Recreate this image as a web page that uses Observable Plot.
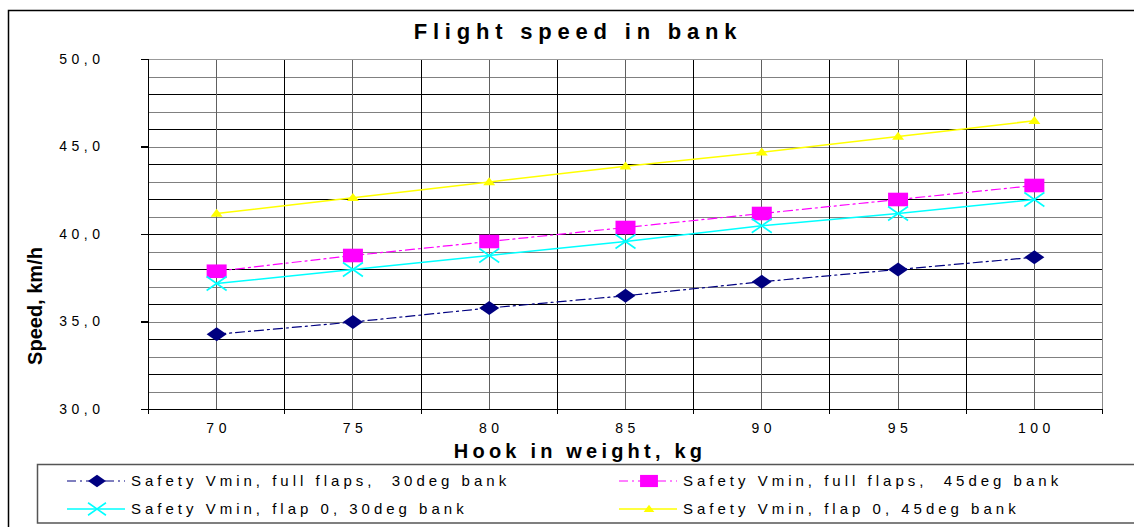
<!DOCTYPE html>
<html><head><meta charset="utf-8">
<script src="https://cdn.jsdelivr.net/npm/d3@7"></script>
<script src="https://cdn.jsdelivr.net/npm/@observablehq/plot@0.6"></script>
<style>
body{margin:0;background:#fff;}
#chart svg{display:block;font-family:"Liberation Sans",Arial,sans-serif;}
g[aria-label="text"] text{letter-spacing:4.5px;}
.lg text{white-space:pre;}
</style></head><body><div id="chart"></div>
<script>
// ---- data ----
const title = "Flight speed in bank";
const xLabel = "Hook in weight, kg";
const yLabel = "Speed, km/h";
const weights = [70, 75, 80, 85, 90, 95, 100];
const fullFlaps30 = [34.3, 35.0, 35.8, 36.5, 37.3, 38.0, 38.7];
const fullFlaps45 = [37.9, 38.8, 39.6, 40.4, 41.2, 42.0, 42.8];
const flap0_30 = [37.2, 38.0, 38.8, 39.6, 40.5, 41.2, 42.0];
const flap0_45 = [41.2, 42.1, 43.0, 43.9, 44.7, 45.6, 46.5];
const seriesNames = [
  "Safety Vmin, full flaps,  30deg bank",
  "Safety Vmin, full flaps,  45deg bank",
  "Safety Vmin, flap 0, 30deg bank",
  "Safety Vmin, flap 0, 45deg bank"
];
const yTicks = [30, 35, 40, 45, 50];
const xDomain = [67.5, 102.5];
const yDomain = [30, 50];

// ---- layout ----
const W = 1134, H = 527;
const mL = 148, mR = 32, mT = 59, mB = 118;
const plotW = W - mL - mR, plotH = H - mT - mB;
const xUnit = (xDomain[1] - xDomain[0]) / plotW;
const yUnit = (yDomain[1] - yDomain[0]) / plotH;

const yGridOdd = d3.range(31, 50, 2);
const yGridEven = d3.range(32, 50, 2);
const xCenters = weights;
const xBounds = d3.range(72.5, 100, 5);
const xAllBounds = d3.range(67.5, 103, 5);

const mk = (vals) => weights.map((w, i) => ({w, v: vals[i]}));
const s1 = mk(fullFlaps30), s2 = mk(fullFlaps45), s3 = mk(flap0_30), s4 = mk(flap0_45);

// custom symbols
const diamond = {draw(c, size) { const r = Math.sqrt(size / Math.PI); c.moveTo(-r, 0); c.lineTo(0, -r * 0.7); c.lineTo(r, 0); c.lineTo(0, r * 0.7); c.closePath(); }};
const square = {draw(c, size) { const r = Math.sqrt(size / Math.PI); c.rect(-r, -r * 0.68, 2 * r, r * 1.36); }};
const cross = {draw(c, size) { const r = Math.sqrt(size / Math.PI); c.moveTo(-r, -r * 0.7); c.lineTo(r, r * 0.7); c.moveTo(-r, r * 0.7); c.lineTo(r, -r * 0.7); }};
const tri = {draw(c, size) { const r = Math.sqrt(size / Math.PI); c.moveTo(0, -r * 0.8); c.lineTo(r, r * 0.55); c.lineTo(-r, r * 0.55); c.closePath(); }};

const styles = [
  {color: "#000080", dash: "9,4,2,4", width: 1.2, symbol: diamond, r: 10, fill: true},
  {color: "#FF00FF", dash: "9,4,2,4", width: 1.2, symbol: square, r: 10, fill: true},
  {color: "#00FFFF", dash: null, width: 1.5, symbol: cross, r: 10, fill: false},
  {color: "#FFFF00", dash: null, width: 1.5, symbol: tri, r: 6, fill: true}
];
const series = [s1, s2, s3, s4];

const marks = [
  Plot.ruleY(yGridOdd, {stroke: "#808080", strokeWidth: 1, shapeRendering: "crispEdges"}),
  Plot.ruleY(yGridEven, {stroke: "#000", strokeWidth: 1, shapeRendering: "crispEdges"}),
  Plot.ruleX(xCenters, {stroke: "#606060", strokeWidth: 1, shapeRendering: "crispEdges"}),
  Plot.ruleX(xBounds, {stroke: "#000", strokeWidth: 1, shapeRendering: "crispEdges"}),
  Plot.ruleY([yDomain[1]], {stroke: "#999", strokeWidth: 1.5, shapeRendering: "crispEdges"}),
  Plot.ruleX([xDomain[1]], {stroke: "#888", strokeWidth: 1.5, shapeRendering: "crispEdges"}),
  Plot.ruleY([yDomain[0]], {stroke: "#000", strokeWidth: 1.5, shapeRendering: "crispEdges"}),
  Plot.ruleX([xDomain[0]], {stroke: "#000", strokeWidth: 1.5, shapeRendering: "crispEdges"}),
  Plot.ruleY(yTicks, {x1: xDomain[0] - 7 * xUnit, x2: xDomain[0], stroke: "#000", strokeWidth: 1.2, shapeRendering: "crispEdges"}),
  Plot.ruleX(xAllBounds, {y1: yDomain[0] - 5 * yUnit, y2: yDomain[0], stroke: "#000", strokeWidth: 1, shapeRendering: "crispEdges"}),
  Plot.text(yTicks, {y: d => d, frameAnchor: "left", dx: -44, textAnchor: "end", text: d => d.toFixed(1).replace(".", ","), fontSize: 14, fill: "#000"}),
  Plot.text(weights, {x: d => d, frameAnchor: "bottom", dy: 23, dx: 2, text: d => String(d), fontSize: 14, fill: "#000"})
];
series.forEach((s, i) => {
  const st = styles[i];
  marks.push(Plot.line(s, {x: "w", y: "v", stroke: st.color, strokeWidth: st.width, strokeDasharray: st.dash}));
});
series.forEach((s, i) => {
  const st = styles[i];
  marks.push(Plot.dot(s, st.fill
    ? {x: "w", y: "v", r: st.r, symbol: st.symbol, fill: st.color, stroke: "none"}
    : {x: "w", y: "v", r: st.r, symbol: st.symbol, fill: "none", stroke: st.color, strokeWidth: 1.6}));
});

const chart = Plot.plot({
  width: W, height: H,
  marginLeft: mL, marginRight: mR, marginTop: mT, marginBottom: mB,
  x: {domain: xDomain, axis: null},
  y: {domain: yDomain, axis: null},
  style: {background: "#fff", fontFamily: "'Liberation Sans', Arial, sans-serif"},
  marks
});
document.getElementById("chart").appendChild(chart);

// ---- decorations: border, titles, legend ----
const svg = d3.select(chart);
svg.insert("rect", ":first-child").attr("x", 8.5).attr("y", 10.5).attr("width", 1300).attr("height", 700)
  .attr("fill", "#fff").attr("stroke", "#000").attr("stroke-width", 1.5);

svg.append("text").text(title).attr("x", 578).attr("y", 39).attr("text-anchor", "middle")
  .attr("font-size", 22).attr("font-weight", "bold").attr("letter-spacing", 5.8).attr("fill", "#000");
svg.append("text").text(xLabel).attr("x", 580).attr("y", 458).attr("text-anchor", "middle")
  .attr("font-size", 20).attr("font-weight", "bold").attr("letter-spacing", 4.2).attr("fill", "#000");
svg.append("text").text(yLabel).attr("transform", "translate(42,306) rotate(-90)").attr("text-anchor", "middle")
  .attr("font-size", 20).attr("font-weight", "bold").attr("fill", "#000");

const lg = svg.append("g").attr("class", "lg");
lg.append("rect").attr("x", 37.5).attr("y", 464.5).attr("width", 1200).attr("height", 58.5)
  .attr("fill", "#fff").attr("stroke", "#555").attr("stroke-width", 1.5);
const pos = [[67, 481], [619, 481], [67, 509], [619, 509]];
seriesNames.forEach((name, i) => {
  const st = styles[i];
  const [x0, y0] = pos[i];
  lg.append("line").attr("x1", x0).attr("x2", x0 + 58).attr("y1", y0).attr("y2", y0)
    .attr("stroke", st.color).attr("stroke-width", st.width).attr("stroke-dasharray", st.dash);
  const p = d3.path();
  st.symbol.draw(p, st.r * st.r * Math.PI * 0.8);
  lg.append("path").attr("d", p.toString()).attr("transform", `translate(${x0 + 30},${y0})`)
    .attr("fill", st.fill ? st.color : "none").attr("stroke", st.fill ? "none" : st.color).attr("stroke-width", 1.6);
  lg.append("text").text(name).attr("x", x0 + 64).attr("y", y0).attr("dy", "0.35em")
    .attr("text-anchor", "start")
    .attr("font-size", 15).attr("letter-spacing", 4).attr("fill", "#000");
});
</script></body></html>
